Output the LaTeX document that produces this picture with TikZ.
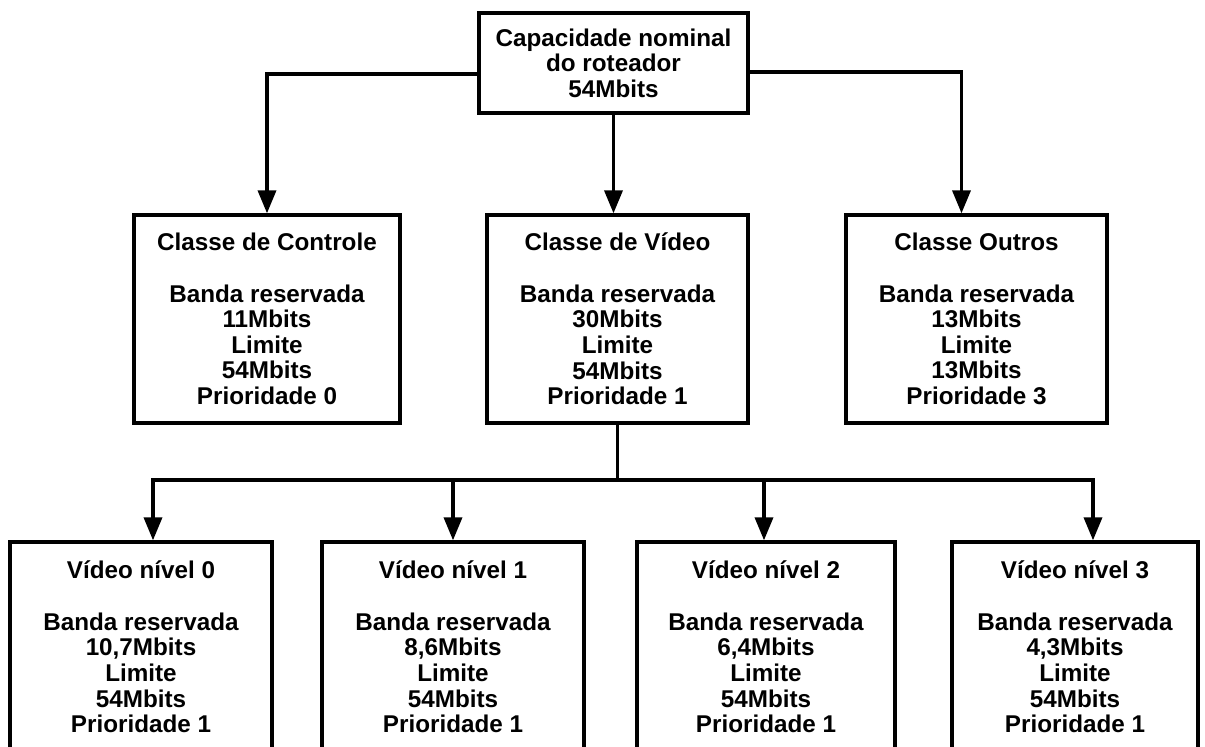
\documentclass[tikz,border=0pt]{standalone}
\usepackage{fontspec}
\setmainfont{Liberation Sans}
\usepackage{tikz}
\usetikzlibrary{arrows.meta, positioning}
\newcommand{\diagfont}{\fontsize{13.8}{14.6}\selectfont\bfseries}

\begin{document}
\begin{tikzpicture}[
    x=0.02cm, y=-0.02cm,
    rootbox/.style={draw, line width=1.9pt, align=center, inner sep=0pt, minimum width=5.38cm, minimum height=2cm, font=\diagfont},
    classbox/.style={draw, line width=1.9pt, align=center, inner sep=0pt, minimum height=4.16cm, font=\diagfont},
    levelbox/.style={draw, line width=1.9pt, align=center, inner sep=0pt, minimum height=4.2cm, font=\diagfont},
    link/.style={line width=2pt, -{Triangle[length=0.46cm, width=0.36cm]}},
    trunk/.style={line width=2pt}
]
    \clip (0,0) rectangle (1205,747);

    % Nodes
    \node[rootbox] (root) at (613.5,63) {Capacidade nominal\\do roteador\\54Mbits};

    \node[classbox, minimum width=5.32cm] (ctrl) at (267,319) {Classe de Controle\\[14.6pt]Banda reservada\\11Mbits\\Limite\\54Mbits\\Prioridade 0};
    \node[classbox, minimum width=5.22cm] (video) at (617.5,319) {Classe de Vídeo\\[14.6pt]Banda reservada\\30Mbits\\Limite\\54Mbits\\Prioridade 1};
    \node[classbox, minimum width=5.22cm] (outros) at (976.5,319) {Classe Outros\\[14.6pt]Banda reservada\\13Mbits\\Limite\\13Mbits\\Prioridade 3};

    \node[levelbox, minimum width=5.24cm] (lvl0) at (141,647) {Vídeo nível 0\\[14.6pt]Banda reservada\\10,7Mbits\\Limite\\54Mbits\\Prioridade 1};
    \node[levelbox, minimum width=5.24cm] (lvl1) at (453,647) {Vídeo nível 1\\[14.6pt]Banda reservada\\8,6Mbits\\Limite\\54Mbits\\Prioridade 1};
    \node[levelbox, minimum width=5.16cm] (lvl2) at (766,647) {Vídeo nível 2\\[14.6pt]Banda reservada\\6,4Mbits\\Limite\\54Mbits\\Prioridade 1};
    \node[levelbox, minimum width=4.92cm] (lvl3) at (1075,647) {Vídeo nível 3\\[14.6pt]Banda reservada\\4,3Mbits\\Limite\\54Mbits\\Prioridade 1};

    % Connections
    \draw[link] ([yshift=-0.22cm]root.west) -| (ctrl.north);
    \draw[link] (root.south) -- (root.south |- video.north);
    \draw[link] ([yshift=-0.18cm]root.east) -| ([xshift=-0.3cm]outros.north);

    \coordinate (bus) at (617.5,480);
    \draw[trunk] (video.south) -- (bus);
    \draw[link] (bus) -| ([xshift=0.24cm]lvl0.north);
    \draw[link] (bus) -| (lvl1.north);
    \draw[link] (bus) -| ([xshift=-0.04cm]lvl2.north);
    \draw[link] (bus) -| ([xshift=0.36cm]lvl3.north);
\end{tikzpicture}
\end{document}
